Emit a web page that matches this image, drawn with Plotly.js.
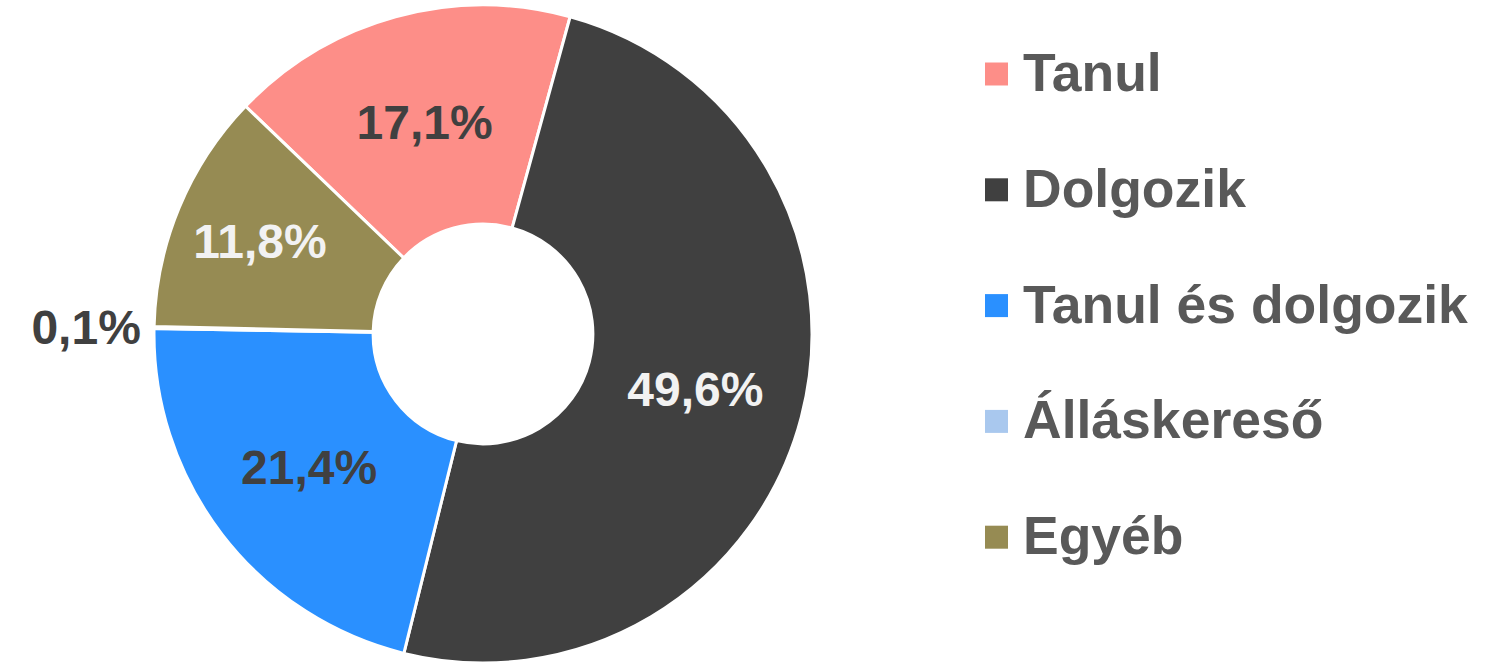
<!DOCTYPE html>
<html>
<head>
<meta charset="utf-8">
<script src="https://cdn.plot.ly/plotly-3.0.1.min.js"></script>
<style>
  html, body { margin: 0; padding: 0; background: #ffffff; }
  #chart { width: 1510px; height: 664px; }
</style>
</head>
<body>
<div id="chart"></div>
<script>
// ---- data ----
const labels = ['Tanul', 'Dolgozik', 'Tanul és dolgozik', 'Álláskereső', 'Egyéb'];
const values = [17.1, 49.6, 21.4, 0.1, 11.8];
const sliceColors = ['#FD8E88', '#404040', '#2A90FF', '#A9C8EE', '#968B53'];
const labelTextColors = ['#404040', '#F2F2F2', '#404040', '#404040', '#F2F2F2'];
const labelPositions = ['inside', 'inside', 'inside', 'outside', 'inside'];

// ---- layout constants ----
const W = 1510, H = 664;
const cx = 483, cy = 334, R = 329;
const FONT = '"Liberation Sans", Arial, sans-serif';

const trace = {
  type: 'pie',
  labels: labels,
  values: values,
  sort: false,
  direction: 'clockwise',
  rotation: -46.2,
  hole: 0.334,
  marker: { colors: sliceColors, line: { color: '#FFFFFF', width: 3 } },
  texttemplate: '%{value:.1f}%',
  textposition: labelPositions,
  insidetextorientation: 'horizontal',
  textfont: { family: FONT, size: 48, weight: 'bold', color: labelTextColors },
  outsidetextfont: { family: FONT, size: 48, weight: 'bold', color: '#404040' },
  domain: {
    x: [(cx - R) / W, (cx + R) / W],
    y: [(H - cy - R) / H, (H - cy + R) / H]
  },
  showlegend: false,
  hoverinfo: 'label+percent'
};

// legend built from the same arrays
const legendTop = 72.5, legendStep = 115.8;
const annotations = [], shapes = [];
labels.forEach((lab, i) => {
  const yc = legendTop + i * legendStep;
  annotations.push({
    xref: 'paper', yref: 'paper',
    x: 1021 / W, y: 1 - yc / H,
    xanchor: 'left', yanchor: 'middle',
    text: lab, showarrow: false,
    font: { family: FONT, size: 53.5, weight: 'bold', color: '#595959' }
  });
  const sc = yc + 1.5, half = 11.5;
  shapes.push({
    type: 'rect', xref: 'paper', yref: 'paper',
    x0: 985 / W, x1: (985 + 2 * half) / W,
    y0: 1 - (sc + half) / H, y1: 1 - (sc - half) / H,
    fillcolor: sliceColors[i], line: { width: 0 }
  });
});

const layout = {
  width: W, height: H,
  margin: { l: 0, r: 0, t: 0, b: 0, pad: 0 },
  paper_bgcolor: '#FFFFFF',
  plot_bgcolor: '#FFFFFF',
  separators: ', ',
  showlegend: false,
  uniformtext: { mode: 'show', minsize: 48 },
  annotations: annotations,
  shapes: shapes,
  font: { family: FONT }
};

Plotly.newPlot('chart', [trace], layout, { displayModeBar: false, staticPlot: true });
</script>
</body>
</html>
